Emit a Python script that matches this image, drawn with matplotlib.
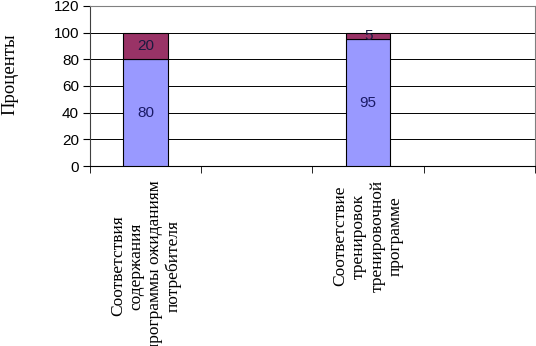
import numpy as np
import matplotlib
matplotlib.use("Agg")
import matplotlib.pyplot as plt

categories = ["Соответствия\nсодержания\nпрограммы ожиданиям\nпотребителя", "",
              "Соответствие\nтренировок\nтренировочной\nпрограмме", ""]
series_yes = [80, 0, 95, 0]            # lower part of each bar
series_no = [20, 0, 5, 0]              # upper part of each bar
yticks = [0, 20, 40, 60, 80, 100, 120]

fig = plt.figure(figsize=(5.36, 3.46), dpi=100)
ax = fig.add_axes([0.168, 0.52, 0.830, 0.463])

x = np.arange(len(categories))
has_bar = np.array(series_yes) + np.array(series_no) > 0
ax.bar(x[has_bar], np.array(series_yes)[has_bar], width=0.4, color='#9999FF',
       edgecolor='black', linewidth=0.8, zorder=3)
ax.bar(x[has_bar], np.array(series_no)[has_bar], width=0.4, bottom=np.array(series_yes)[has_bar],
       color='#993366', edgecolor='black', linewidth=0.8, zorder=3)

for i in x[has_bar]:                                            # value labels in the middle of each piece
    ax.text(i, series_yes[i] / 2, str(series_yes[i]), ha='center', va='center',
            fontsize=11, color='#1a1a66', family='Liberation Sans', zorder=4)
    ax.text(i, series_yes[i] + series_no[i] / 2, str(series_no[i]), ha='center', va='center',
            fontsize=11, color='#1a1a40', family='Liberation Sans', zorder=4)

ax.set_xlim(-0.5, len(categories) - 0.5)
ax.set_ylim(0, 120)
ax.set_yticks(yticks)
ax.set_yticklabels([str(v) for v in yticks], family='Liberation Sans', fontsize=11)
ax.yaxis.grid(True, color='black', linewidth=0.7, zorder=0)

ax.set_xticks(x)
ax.set_xticklabels(categories, rotation=90, family='Liberation Serif', fontsize=12.5,
                   multialignment='center', linespacing=1.2)
ax.set_xticks(np.arange(len(categories) + 1) - 0.5, minor=True)
ax.tick_params(axis='x', which='major', length=0, pad=10)
ax.tick_params(axis='x', which='minor', length=5, direction='out', color='black')
ax.tick_params(axis='y', length=5, direction='out', pad=3)

for side in ['top', 'right']:
    ax.spines[side].set_color('#808080')
ax.spines['left'].set_color('#404040')
ax.spines['bottom'].set_color('black')

fig.text(0.019, 0.785, 'Проценты', rotation=90, ha='center', va='center',
         family='Liberation Serif', fontsize=13.5)

fig.savefig('out.png', dpi=100)
